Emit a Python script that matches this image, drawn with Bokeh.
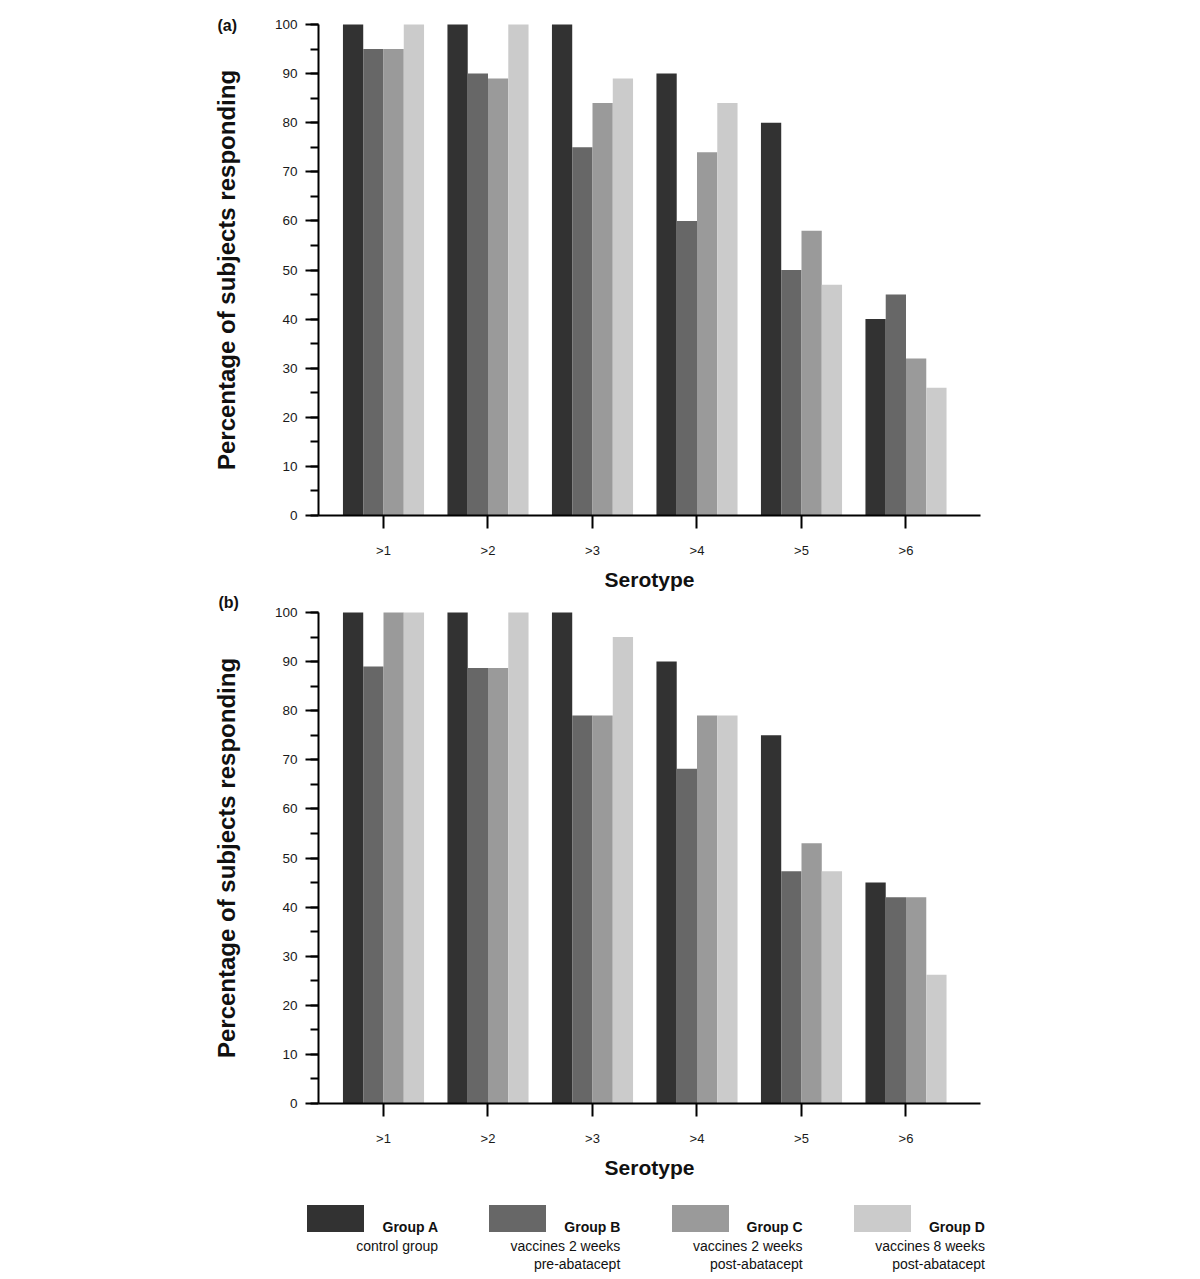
from bokeh.plotting import figure
from bokeh.layouts import column
from bokeh.models import Range1d, FixedTicker, SingleIntervalTicker, Label, ColumnDataSource, Div
from bokeh.embed import file_html
from bokeh.resources import INLINE

# ---------------- data ----------------
serotypes = [">1", ">2", ">3", ">4", ">5", ">6"]
groups = ["Group A", "Group B", "Group C", "Group D"]
group_desc = [["control group"],
              ["vaccines 2 weeks", "pre-abatacept"],
              ["vaccines 2 weeks", "post-abatacept"],
              ["vaccines 8 weeks", "post-abatacept"]]
colors = ["#323232", "#676767", "#9a9a9a", "#cbcbcb"]

a_group_a = [100, 100, 100, 90, 80, 40]
a_group_b = [95, 90, 75, 60, 50, 45]
a_group_c = [95, 89, 84, 74, 58, 32]
a_group_d = [100, 100, 89, 84, 47, 26]

b_group_a = [100, 100, 100, 90, 75, 45]
b_group_b = [89, 88.7, 79, 68.2, 47.3, 42]
b_group_c = [100, 88.7, 79, 79, 53, 42]
b_group_d = [100, 100, 95, 79, 47.3, 26.2]

FONT = "Liberation Sans"
W = 1184
AXIS_X = 318              # page x of the y axis
PX_PER_X = 104.5
PX_PER_Y = 4.91
BAR_W = 0.194
X_AXIS0, X_AXIS1 = 0.378, 6.713
X_FRAME0 = X_AXIS0 - AXIS_X / PX_PER_X
X_FRAME1 = X_AXIS0 + (W - AXIS_X) / PX_PER_X


def make_panel(tag, series, fig_top, fig_h, zero_y, tag_x, tag_y):
    # the frame covers the whole figure; axes are placed at fixed data locations
    y0 = -(fig_top + fig_h - zero_y) / PX_PER_Y
    y1 = (zero_y - fig_top) / PX_PER_Y
    p = figure(width=W, height=fig_h, output_backend="svg", toolbar_location=None,
               x_range=Range1d(X_FRAME0, X_FRAME1), y_range=Range1d(y0, y1),
               min_border_left=0, min_border_right=0,
               min_border_top=0, min_border_bottom=0)
    p.outline_line_color = None
    p.xgrid.visible = False
    p.ygrid.visible = False
    p.background_fill_color = "white"
    p.border_fill_color = "white"

    xs = list(range(1, len(serotypes) + 1))
    for gi, vals in enumerate(series):
        off = (gi - 1.5) * BAR_W
        src = ColumnDataSource(dict(x=[x + off for x in xs], top=vals))
        p.vbar(x="x", top="top", bottom=0, width=BAR_W, source=src,
               fill_color=colors[gi], line_color=None)

    # x axis
    xa = p.xaxis[0]
    xa.fixed_location = 0
    xa.bounds = (X_AXIS0, X_AXIS1)
    xa.ticker = FixedTicker(ticks=xs)
    xa.major_label_overrides = {x: s for x, s in zip(xs, serotypes)}
    xa.major_tick_out = 13
    xa.major_tick_in = 0
    xa.minor_tick_out = 0
    xa.major_tick_line_width = 2
    xa.axis_line_width = 2
    xa.axis_line_color = "black"
    xa.major_tick_line_color = "black"
    xa.major_label_text_font = FONT
    xa.major_label_text_font_size = "13px"
    xa.major_label_text_color = "#1a1a1a"
    xa.major_label_standoff = 14
    xa.axis_label = "Serotype"
    xa.axis_label_text_font = FONT
    xa.axis_label_text_font_style = "bold"
    xa.axis_label_text_font_size = "21px"
    xa.axis_label_text_color = "#111111"
    xa.axis_label_standoff = 7

    # y axis
    ya = p.yaxis[0]
    ya.fixed_location = X_AXIS0
    ya.bounds = (0, 100)
    ya.ticker = SingleIntervalTicker(interval=10, num_minor_ticks=2)
    ya.major_tick_out = 13
    ya.major_tick_in = 0
    ya.minor_tick_out = 8
    ya.minor_tick_in = 0
    ya.major_tick_line_width = 2
    ya.minor_tick_line_width = 2
    ya.axis_line_width = 2
    ya.axis_line_color = "black"
    ya.major_tick_line_color = "black"
    ya.minor_tick_line_color = "black"
    ya.major_label_text_font = FONT
    ya.major_label_text_font_size = "13.5px"
    ya.major_label_text_color = "#1a1a1a"
    ya.major_label_standoff = 8
    ya.axis_label = "Percentage of subjects responding"
    ya.axis_label_text_font = FONT
    ya.axis_label_text_font_style = "bold"
    ya.axis_label_text_font_size = "24px"
    ya.axis_label_text_color = "#111111"
    ya.axis_label_standoff = 32

    p.add_layout(Label(x=tag_x, y=tag_y, text=tag,
                       text_font=FONT, text_font_style="bold", text_font_size="16px",
                       text_color="#111111", text_baseline="middle", text_align="left"))
    return p


# panel (a): page y 0..593, zero line at 515 ; panel (b): page y 593..1190, zero line at 1103
p1 = make_panel("(a)", [a_group_a, a_group_b, a_group_c, a_group_d], 0, 593, 515,
                X_AXIS0 - 101 / PX_PER_X, 99.8)
p2 = make_panel("(b)", [b_group_a, b_group_b, b_group_c, b_group_d], 593, 597, 1103,
                X_AXIS0 - 100 / PX_PER_X, 102.0)

# ---------------- legend (HTML) ----------------
step = 182.3
sw_left0 = 302
parts = ['<div style="position:relative;width:%dpx;height:85px;font-family:\'%s\',Arial,sans-serif;color:#111;">' % (W, FONT)]
for gi, g in enumerate(groups):
    left = sw_left0 + gi * step
    parts.append('<div style="position:absolute;left:%.1fpx;top:10px;width:57px;height:27px;background:%s;"></div>'
                 % (left, colors[gi]))
    lines = ['<span style="font-weight:bold;">%s</span>' % g] + group_desc[gi]
    parts.append('<div style="position:absolute;left:%.1fpx;top:23px;width:160px;text-align:right;'
                  'font-size:14px;line-height:18.5px;white-space:nowrap;">%s</div>'
                  % (left + 131 - 160, "<br>".join(lines)))
parts.append('</div>')
legend = Div(text="".join(parts), width=W, height=85)

layout = column(p1, p2, legend, spacing=0)
open("out.html", "w").write(file_html(layout, INLINE))
